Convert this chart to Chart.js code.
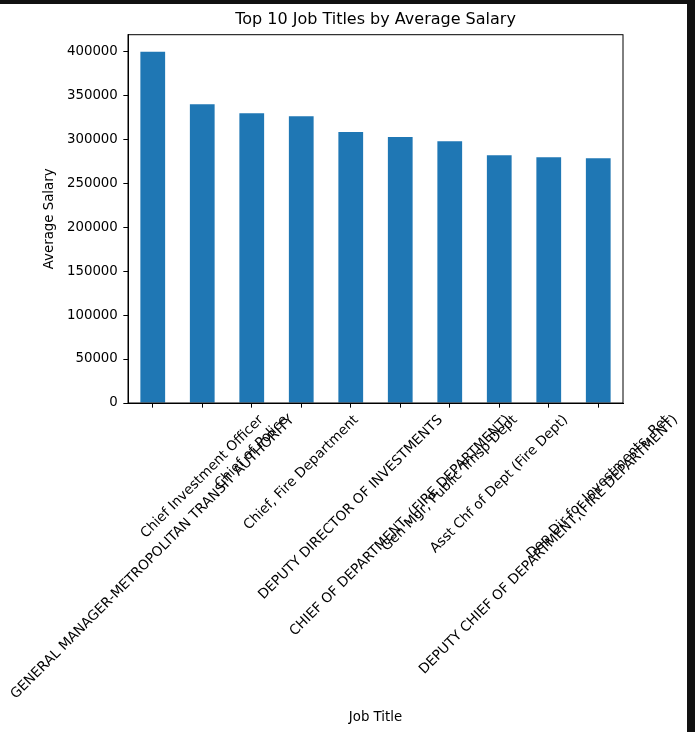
<!DOCTYPE html>
<html>
<head>
<meta charset="utf-8">
<script src="https://cdn.jsdelivr.net/npm/chart.js@4"></script>
<style>
  body { margin: 0; background: #fff; }
  #wrap { position: relative; width: 695px; height: 732px; }
  #topBar { position: absolute; left: 0; top: 0; width: 695px; height: 4px; background: #111; }
  #rightBar { position: absolute; left: 687px; top: 0; width: 8px; height: 732px; background: #111; }
</style>
</head>
<body>
<div id="wrap">
  <canvas id="salaryChart" width="695" height="732"></canvas>
  <div id="topBar"></div>
  <div id="rightBar"></div>
</div>
<script>
const jobTitles = [
    'GENERAL MANAGER-METROPOLITAN TRANSIT AUTHORITY',
    'Chief Investment Officer',
    'Chief of Police',
    'Chief, Fire Department',
    'DEPUTY DIRECTOR OF INVESTMENTS',
    'CHIEF OF DEPARTMENT, (FIRE DEPARTMENT)',
    'Gen Mgr, Public Trnsp Dept',
    'Asst Chf of Dept (Fire Dept)',
    'DEPUTY CHIEF OF DEPARTMENT,(FIRE DEPARTMENT)',
    'Dep Dir for Investments, Ret'
];
const avgSalaries = [399500, 339700, 329500, 326100, 308000, 302300, 297700, 281800, 279500, 278400];
const yTicks = [0, 50000, 100000, 150000, 200000, 250000, 300000, 350000, 400000];
const yMax = 418750;

const fontFamily = "'DejaVu Sans', sans-serif";
const tickLen = 4.67;

// matplotlib-style rotated labels: rotated box centred on the tick
const rotatedLabels = {
    id: 'rotatedLabels',
    afterDraw(chart) {
        const ctx = chart.ctx;
        const xScale = chart.scales.x;
        const top = chart.chartArea.bottom + tickLen + 4.67;
        ctx.save();
        ctx.font = `13.7px ${fontFamily}`;
        ctx.fillStyle = '#000';
        ctx.textAlign = 'center';
        ctx.textBaseline = 'middle';
        jobTitles.forEach((label, i) => {
            const x = xScale.getPixelForTick(i);
            const w = ctx.measureText(label).width;
            const h = 15.5;
            const half = (w + h) / (2 * Math.SQRT2);
            ctx.save();
            ctx.translate(x, top + half);
            ctx.rotate(-Math.PI / 4);
            ctx.fillText(label, 0, 0);
            ctx.restore();
        });
        ctx.restore();
    }
};

const frameBox = {
    id: 'frameBox',
    afterDatasetsDraw(chart) {
        const {ctx, chartArea} = chart;
        ctx.save();
        ctx.strokeStyle = '#000';
        ctx.lineWidth = 1;
        ctx.strokeRect(chartArea.left, chartArea.top, chartArea.right - chartArea.left, chartArea.bottom - chartArea.top);
        ctx.restore();
    }
};

const ctx = document.getElementById('salaryChart').getContext('2d');
new Chart(ctx, {
    type: 'bar',
    data: {
        labels: jobTitles,
        datasets: [{
            label: 'Average Salary',
            data: avgSalaries,
            backgroundColor: '#1f77b4',
            categoryPercentage: 1,
            barPercentage: 0.5
        }]
    },
    options: {
        responsive: false,
        animation: false,
        layout: {
            padding: { left: 0, right: 72, top: 0, bottom: 0 }
        },
        plugins: {
            legend: { display: false },
            tooltip: { enabled: false },
            title: {
                display: true,
                fullSize: false,
                text: 'Top 10 Job Titles by Average Salary',
                color: '#000',
                font: { family: fontFamily, size: 16, weight: 'normal' },
                padding: { top: 10.5, bottom: 5 }
            }
        },
        scales: {
            x: {
                offset: true,
                afterFit: (scale) => { scale.height = 329; },
                grid: {
                    display: true,
                    drawOnChartArea: false,
                    drawTicks: true,
                    tickLength: tickLen,
                    color: '#000',
                    offset: false
                },
                border: { display: true, color: '#000' },
                ticks: { display: false },
                title: {
                    display: true,
                    text: 'Job Title',
                    color: '#000',
                    font: { family: fontFamily, size: 13.33 },
                    padding: { top: 0, bottom: 6 }
                }
            },
            y: {
                min: 0,
                max: yMax,
                afterFit: (scale) => { scale.width = 128; },
                afterBuildTicks: (scale) => { scale.ticks = yTicks.map(v => ({ value: v })); },
                grid: {
                    display: true,
                    drawOnChartArea: false,
                    drawTicks: true,
                    tickLength: tickLen,
                    color: '#000'
                },
                border: { display: true, color: '#000' },
                ticks: {
                    padding: 5.5,
                    color: '#000',
                    font: { family: fontFamily, size: 13.33 },
                    callback: (v) => String(v)
                },
                title: {
                    display: true,
                    text: 'Average Salary',
                    color: '#000',
                    font: { family: fontFamily, size: 13.33 },
                    padding: { top: 42, bottom: 0 }
                }
            }
        }
    },
    plugins: [rotatedLabels, frameBox]
});
</script>
</body>
</html>
